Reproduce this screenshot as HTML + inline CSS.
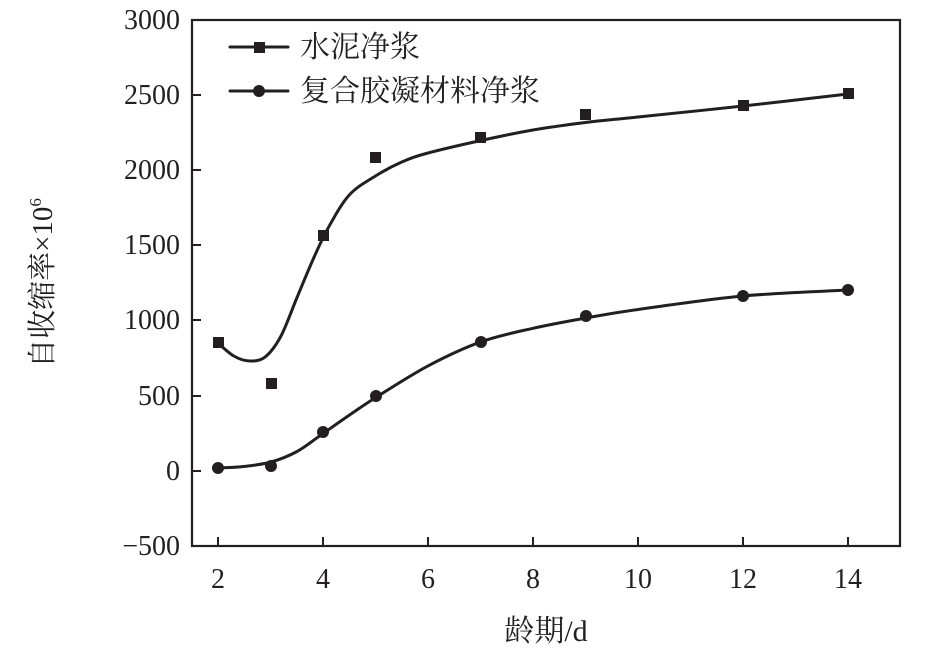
<!DOCTYPE html>
<html><head><meta charset="utf-8"><style>body{margin:0;background:#fff}</style></head><body>
<svg width="945" height="649" xmlns="http://www.w3.org/2000/svg" font-family="Liberation Serif, Noto Serif CJK SC, serif" fill="#231f20">
<rect x="192" y="20" width="708" height="526" fill="none" stroke="#231f20" stroke-width="2.2"/>
<g stroke="#231f20" stroke-width="2">
<line x1="218" y1="546" x2="218" y2="537"/><line x1="323" y1="546" x2="323" y2="537"/><line x1="428" y1="546" x2="428" y2="537"/><line x1="533" y1="546" x2="533" y2="537"/><line x1="638" y1="546" x2="638" y2="537"/><line x1="743" y1="546" x2="743" y2="537"/><line x1="848" y1="546" x2="848" y2="537"/>
<line x1="192" y1="95" x2="201" y2="95"/><line x1="192" y1="170" x2="201" y2="170"/><line x1="192" y1="245" x2="201" y2="245"/><line x1="192" y1="320" x2="201" y2="320"/><line x1="192" y1="396" x2="201" y2="396"/><line x1="192" y1="471" x2="201" y2="471"/>
</g>
<g font-size="28" text-anchor="end">
<text x="180" y="29">3000</text><text x="180" y="104">2500</text><text x="180" y="179">2000</text><text x="180" y="254">1500</text><text x="180" y="329">1000</text><text x="180" y="405">500</text><text x="180" y="480">0</text><text x="180" y="555">−500</text>
</g>
<g font-size="28" text-anchor="middle">
<text x="218" y="588">2</text><text x="323" y="588">4</text><text x="428" y="588">6</text><text x="533" y="588">8</text><text x="638" y="588">10</text><text x="743" y="588">12</text><text x="848" y="588">14</text>
<text x="546" y="641" font-size="30">龄期/d</text>
</g>
<text transform="translate(52,283) rotate(-90)" font-size="29" text-anchor="middle">自收缩率×10<tspan font-size="17" dy="-11">6</tspan></text>
<g fill="none" stroke="#231f20" stroke-width="3" stroke-linejoin="round" stroke-linecap="round">
<path id="c1" d=""/>
<path id="c2" d=""/>
<line x1="230" y1="47" x2="288" y2="47"/><line x1="230" y1="91" x2="288" y2="91"/>
</g>
<g>
<rect x="213" y="337" width="11" height="11"/><rect x="266" y="378" width="11" height="11"/><rect x="318" y="230" width="11" height="11"/><rect x="370" y="152" width="11" height="11"/><rect x="475" y="132" width="11" height="11"/><rect x="580" y="109" width="11" height="11"/><rect x="738" y="100" width="11" height="11"/><rect x="843" y="88" width="11" height="11"/>
<rect x="254" y="42" width="11" height="11"/>
<circle cx="218" cy="468" r="6"/><circle cx="271" cy="466" r="6"/><circle cx="323" cy="432" r="6"/><circle cx="376" cy="396" r="6"/><circle cx="481" cy="342" r="6"/><circle cx="586" cy="316" r="6"/><circle cx="743" cy="296" r="6"/><circle cx="848" cy="290" r="6"/>
<circle cx="259" cy="91" r="6"/>
</g>
<g font-size="30"><text x="300" y="57">水泥净浆</text><text x="300" y="101">复合胶凝材料净浆</text></g>
</svg>
<script>
function cr(p){var d="M"+p[0][0]+","+p[0][1];for(var i=0;i<p.length-1;i++){var a=p[i-1]||p[i],b=p[i],c=p[i+1],e=p[i+2]||c;d+=" C"+(b[0]+(c[0]-a[0])/6)+","+(b[1]+(c[1]-a[1])/6)+" "+(c[0]-(e[0]-b[0])/6)+","+(c[1]-(e[1]-b[1])/6)+" "+c[0]+","+c[1];}return d;}
var p1=[[218,343],[233.8,356],[249.5,361],[265.3,356.8],[281,336],[296.8,298],[312.5,260.7],[328.3,227.7],[349.3,195],[375.5,176],[401.8,162],[428,153],[480.5,140.6],[533,130],[585.5,122.5],[638,117],[743,106],[848,94]];
var p2=[[218,468],[244,466.5],[271,462],[297,451.5],[323,433.5],[349,415.4],[376,397.4],[428,365.9],[481,341.8],[533,328.3],[586,318],[638,309.5],[743,296],[848,290]];
document.getElementById("c1").setAttribute("d",cr(p1));
document.getElementById("c2").setAttribute("d",cr(p2));
</script>
</body></html>
